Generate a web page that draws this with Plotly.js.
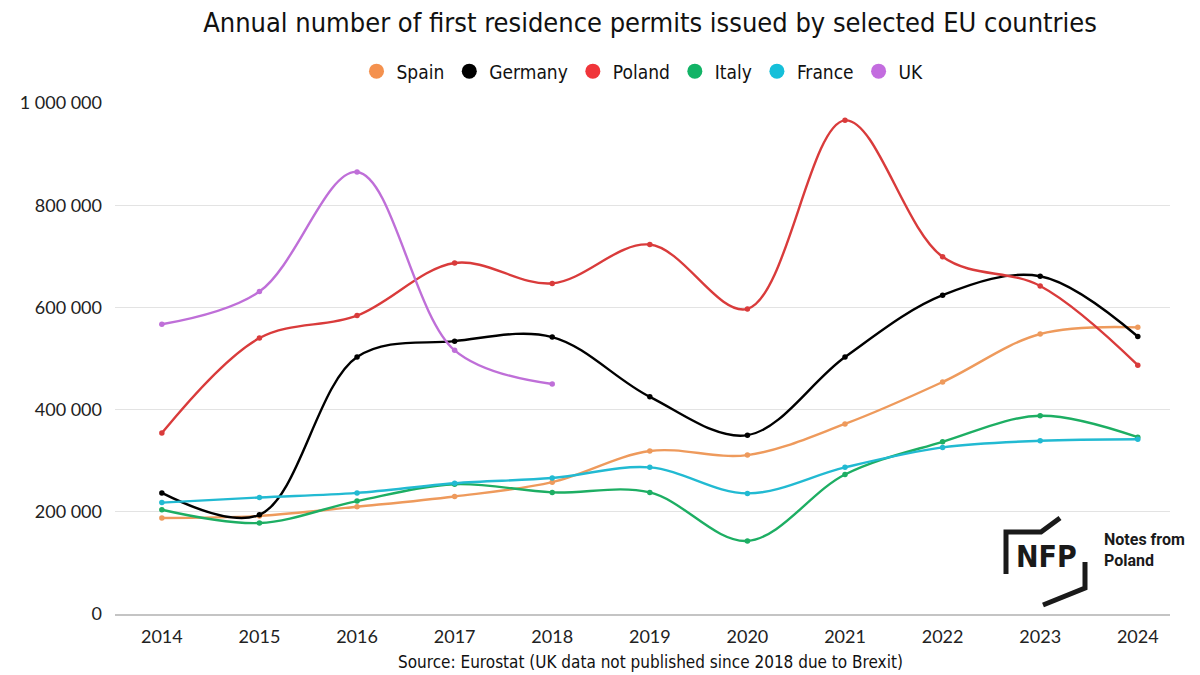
<!DOCTYPE html>
<html>
<head>
<meta charset="utf-8">
<script src="https://cdn.plot.ly/plotly-3.0.1.min.js"></script>
<style>
html,body{margin:0;padding:0;background:#fff;}
#chart{width:1200px;height:675px;}
</style>
</head>
<body>
<div id="chart"></div>
<script>
const years = [2014, 2015, 2016, 2017, 2018, 2019, 2020, 2021, 2022, 2023, 2024];
const ukYears = [2014, 2015, 2016, 2017, 2018];

const spain   = [188000, 192000, 210000, 230000, 258000, 319000, 311000, 372000, 454000, 548000, 561000];
const germany = [237000, 194000, 503000, 534000, 542000, 425000, 350000, 503000, 624000, 661000, 543000];
const poland  = [354000, 540000, 584000, 687000, 647000, 723000, 597000, 966000, 699000, 642000, 487000];
const italy   = [204000, 178000, 221000, 254000, 238000, 238000, 143000, 273000, 337000, 388000, 346000];
const france  = [218000, 228000, 237000, 256000, 266000, 287000, 236000, 287000, 326000, 339000, 342000];
const uk      = [567000, 631000, 865000, 516000, 450000];

const seriesNames = ["Spain", "Germany", "Poland", "Italy", "France", "UK"];
const colors = ["#EE9A5C", "#000000", "#D93B3B", "#1DAE63", "#22BAD2", "#BF6FD8"];
const legendColors = ["#F4914E", "#000000", "#F0353A", "#12B366", "#16BFD9", "#C36CDF"];
const yTicks = [0, 200000, 400000, 600000, 800000, 1000000];

const seriesData = [
  [years, spain], [years, germany], [years, poland],
  [years, italy], [years, france], [ukYears, uk]
];

const traces = [];
seriesData.forEach(function(d, i){
  traces.push({
    x: d[0], y: d[1], name: seriesNames[i], type: "scatter",
    mode: "lines+markers",
    line: {shape: "spline", smoothing: 1.0, width: 2.4, color: colors[i]},
    marker: {size: 5.5, color: colors[i]},
    showlegend: false, hoverinfo: "x+y+name"
  });
});
seriesNames.forEach(function(n, i){
  traces.push({
    x: [null], y: [null], name: n, type: "scatter", mode: "markers",
    marker: {size: 15, color: legendColors[i], symbol: "circle"},
    showlegend: true
  });
});

const condensed = "'Liberation Sans Narrow', 'DejaVu Sans Condensed', 'Roboto', sans-serif";
const logoFont = "Roboto, 'Liberation Sans Narrow', sans-serif";
const logoStroke = {color: "#1a1a1a", width: 5};

function px(v){ return (v - 115) / 1055; }
function py(v){ return (614 - v) / 511; }

const layout = {
  width: 1200, height: 675,
  paper_bgcolor: "#ffffff", plot_bgcolor: "#ffffff",
  separators: ". ",
  margin: {l: 115, r: 30, t: 103, b: 61},
  title: {
    text: "Annual number of first residence permits issued by selected EU countries",
    font: {family: condensed, size: 27, color: "#111111"},
    x: 0.5417, xanchor: "center", y: 0.967, yanchor: "middle"
  },
  legend: {
    orientation: "h", x: 0.5, xanchor: "center", y: 1.062, yanchor: "middle",
    font: {family: condensed, size: 19, color: "#111111"},
    itemwidth: 30, traceorder: "normal", itemclick: false
  },
  xaxis: {
    range: [2013.52, 2024.33],
    tickvals: years, ticktext: years.map(String),
    showgrid: false, zeroline: false,
    showline: true, linecolor: "#c4c4c4", linewidth: 1.5,
    ticks: "", ticklabelstandoff: 6,
    tickfont: {family: "Lato, 'Open Sans', sans-serif", size: 18, color: "#222222"},
    fixedrange: true
  },
  yaxis: {
    range: [0, 1000000],
    tickvals: yTicks, tickformat: ",d",
    showgrid: true, gridcolor: "#e3e3e3", gridwidth: 1.2,
    zeroline: false, showline: false, ticks: "",
    ticklabelstandoff: 12,
    tickfont: {family: "Lato, 'Open Sans', sans-serif", size: 18, color: "#222222"},
    fixedrange: true
  },
  annotations: [
    {text: "Source: Eurostat (UK data not published since 2018 due to Brexit)",
     xref: "paper", yref: "paper", x: px(650), y: py(662),
     xanchor: "center", yanchor: "middle", showarrow: false,
     font: {family: condensed, size: 17, color: "#111111"}},
    {text: "<b>NFP</b>", xref: "paper", yref: "paper",
     x: px(1046), y: py(556), xanchor: "center", yanchor: "middle",
     showarrow: false, font: {family: condensed, size: 30, color: "#1a1a1a"}},
    {text: "<b>Notes from<br>Poland</b>", xref: "paper", yref: "paper",
     x: px(1102), y: py(550), xanchor: "left", yanchor: "middle", align: "left",
     showarrow: false, font: {family: logoFont, size: 16, color: "#1a1a1a"}}
  ],
  shapes: [
    {type: "path", xref: "paper", yref: "paper",
     path: "M " + px(1006) + " " + py(574) + " L " + px(1006) + " " + py(532) +
           " L " + px(1041) + " " + py(532) + " L " + px(1060) + " " + py(518),
     line: logoStroke},
    {type: "path", xref: "paper", yref: "paper",
     path: "M " + px(1085) + " " + py(562) + " L " + px(1085) + " " + py(588) +
           " L " + px(1043) + " " + py(605),
     line: logoStroke}
  ],
  hovermode: "closest"
};

Plotly.newPlot("chart", traces, layout, {displayModeBar: false, responsive: false});
</script>
</body>
</html>
